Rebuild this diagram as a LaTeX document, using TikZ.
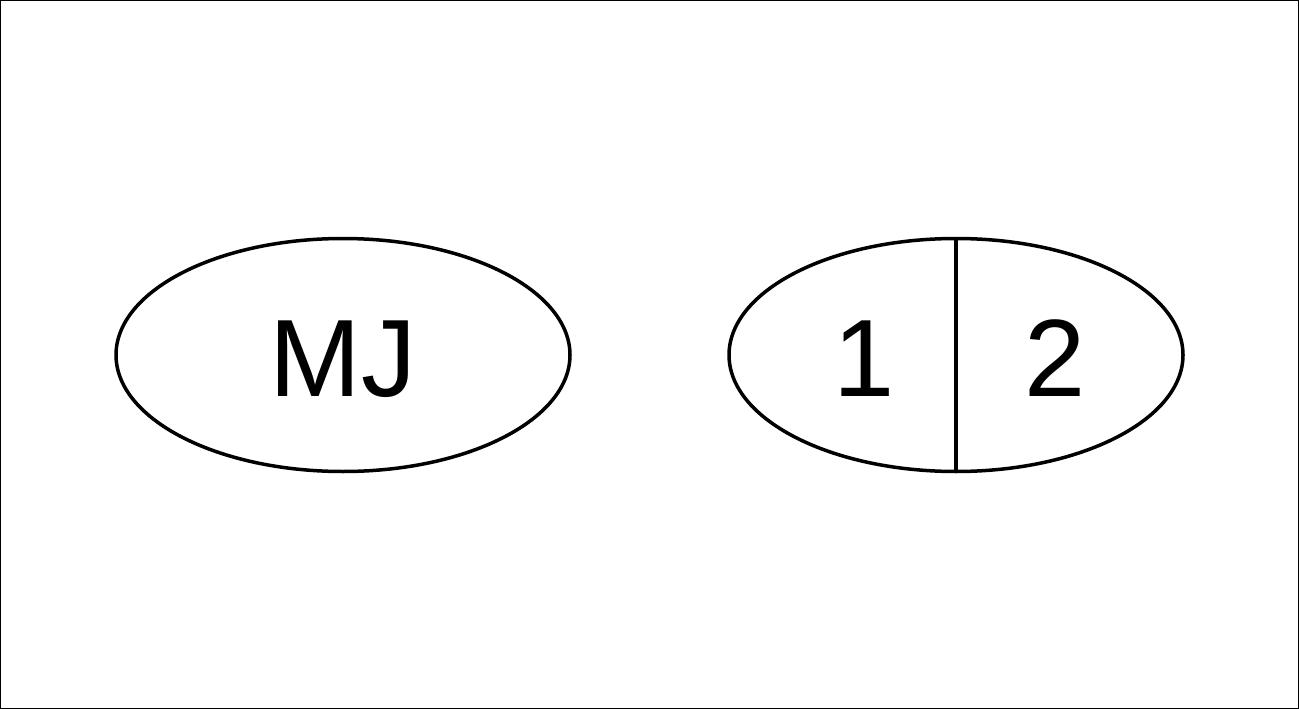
\documentclass[tikz,border=0pt]{standalone}
\usepackage{fontspec}
\setmainfont{Liberation Sans}
\usetikzlibrary{shapes.geometric}
\tikzset{oval/.style={draw, ellipse, line width=3.5pt, minimum width=454pt, minimum height=233pt, inner sep=0pt},
         label text/.style={anchor=base, inner sep=0pt, font=\fontsize{110}{120}\selectfont}}

\begin{document}
\begin{tikzpicture}[x=1pt,y=-1pt]
  \draw[line width=1pt] (0.5,0.5) rectangle (1298.5,708.5);
  \node[oval] (left) at (343,355) {};
  \node[oval] (right) at (956,355) {};
  \node[label text] (mj) at (343,396) {MJ};
  \node[label text] (one) at (864,396) {1};
  \node[label text] (two) at (1055,396) {2};
  \draw[line width=3.5pt] (right.north) -- (right.south);
\end{tikzpicture}
\end{document}
